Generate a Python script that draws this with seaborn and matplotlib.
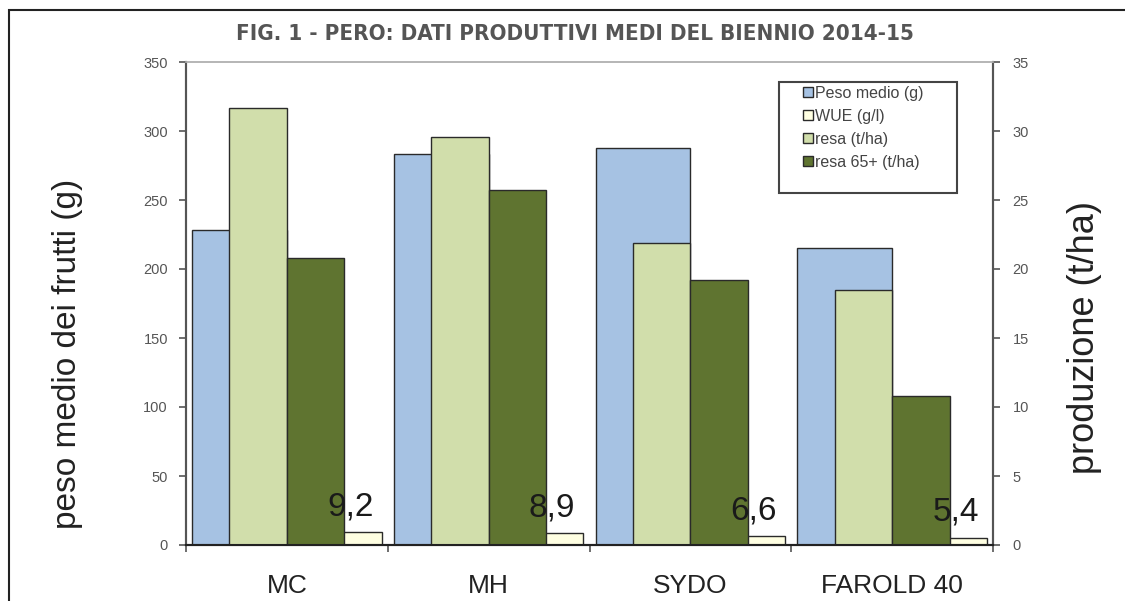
import matplotlib
matplotlib.use("Agg")
import matplotlib.pyplot as plt
import seaborn as sns
import pandas as pd
from matplotlib.patches import Patch, Rectangle

categories = ["MC", "MH", "SYDO", "FAROLD 40"]
peso_medio = [228, 283, 288, 215]
wue = [9.2, 8.9, 6.6, 5.4]
resa = [31.7, 29.6, 21.9, 18.5]
resa65 = [20.8, 25.7, 19.2, 10.8]
wue_labels = ["9,2", "8,9", "6,6", "5,4"]
series_left = ["Peso medio (g)", "WUE (g/l)"]
series_right = ["resa (t/ha)", "resa 65+ (t/ha)"]

c_blue = "#A6C2E3"
c_wue = "#FFFFE2"
c_light = "#D1DEAB"
c_dark = "#5F7430"
edge = "#2a2a2a"

sns.set_theme(style="white")
plt.rcParams["font.family"] = ["Liberation Sans", "DejaVu Sans"]

df_left = pd.DataFrame({
    "cat": categories * 2,
    "series": [series_left[0]] * 4 + [series_left[1]] * 4,
    "value": peso_medio + wue,
})
df_right = pd.DataFrame({
    "cat": categories * 2,
    "series": [series_right[0]] * 4 + [series_right[1]] * 4,
    "value": resa + resa65,
})

W, H = 1125, 601
fig = plt.figure(figsize=(W / 100, H / 100), dpi=100)
ax = fig.add_axes([186 / W, 1 - 545 / H, (993 - 186) / W, (545 - 62) / H])
ax2 = ax.twinx()

sns.barplot(data=df_left, x="cat", y="value", hue="series", order=categories,
            hue_order=series_left, palette=[c_blue, c_wue], width=0.94,
            edgecolor=edge, linewidth=1.0, ax=ax, legend=False, errorbar=None,
            saturation=1)
sns.barplot(data=df_right, x="cat", y="value", hue="series", order=categories,
            hue_order=series_right, palette=[c_light, c_dark], width=0.57,
            edgecolor=edge, linewidth=1.0, ax=ax2, legend=False, errorbar=None,
            saturation=1)

for a in (ax, ax2):
    a.set_xlim(-0.5, 3.5)
    a.set_xlabel("")
    a.set_ylabel("")
ax.set_ylim(0, 350)
ax2.set_ylim(0, 35)
ax.set_yticks(range(0, 351, 50))
ax2.set_yticks(range(0, 36, 5))

for a in (ax, ax2):
    a.spines["top"].set_color("#b5b5b5")
    a.spines["top"].set_linewidth(1.2)
    a.spines["left"].set_color("#555555")
    a.spines["right"].set_color("#555555")
    a.spines["left"].set_linewidth(1.5)
    a.spines["right"].set_linewidth(1.5)
    a.spines["bottom"].set_color("#222222")
    a.spines["bottom"].set_linewidth(1.5)

ax.tick_params(axis="y", which="major", direction="out", length=5, width=1.2,
               color="#555555", labelsize=10.5, labelcolor="#555555", pad=8,
               left=True)
ax2.tick_params(axis="y", which="major", direction="out", length=5, width=1.2,
                color="#555555", labelsize=10.5, labelcolor="#555555", pad=9,
                right=True)

ax.set_xticks(range(4))
ax.set_xticklabels(categories)
ax.tick_params(axis="x", which="major", length=0, pad=21, labelsize=19,
               labelcolor="#222222")
ax.set_xticks([-0.5, 0.5, 1.5, 2.5, 3.5], minor=True)
ax.tick_params(axis="x", which="minor", direction="out", length=5, width=1.2,
               color="#555555", bottom=True)
ax2.tick_params(axis="x", which="both", length=0, labelbottom=False)

for i, (v, lab) in enumerate(zip(wue, wue_labels)):
    ax2.text(i + 0.315, v + 7.0, lab, transform=ax.transData, ha="center",
             va="bottom", fontsize=24, color="#1a1a1a")

fig.text(68 / W, 1 - 354 / H, "peso medio dei frutti (g)", rotation=90,
         ha="center", va="center", fontsize=24, color="#222222")
fig.text(1085 / W, 1 - 338 / H, "produzione (t/ha)", rotation=90,
         ha="center", va="center", fontsize=26, color="#222222")

fig.text(575 / W, 1 - 34 / H, "FIG. 1 - PERO: DATI PRODUTTIVI MEDI DEL BIENNIO 2014-15",
         ha="center", va="center", fontsize=16, fontweight="bold",
         fontstretch="condensed", color="#555555", family="DejaVu Sans")

handles = [Patch(facecolor=c, edgecolor=edge, linewidth=1.0)
           for c in (c_blue, c_wue, c_light, c_dark)]
labels = series_left + series_right
leg = ax2.legend(handles, labels, loc="upper left",
                 bbox_to_anchor=(803 / W, 1 - 86 / H),
                 bbox_transform=fig.transFigure, frameon=False,
                 fontsize=11.5, handlelength=0.6, handleheight=0.6,
                 handletextpad=0.15, labelspacing=0.5, borderpad=0,
                 borderaxespad=0)
for t in leg.get_texts():
    t.set_color("#444444")
fig.patches.append(Rectangle((779 / W, 1 - 193 / H), (957 - 779) / W, (193 - 82) / H,
                             transform=fig.transFigure, fill=False,
                             edgecolor="#444444", linewidth=1.5, zorder=10))

fig.patches.append(Rectangle((9 / W, -0.2), 1.2, 1 - 10 / H + 0.2,
                             transform=fig.transFigure, fill=False,
                             edgecolor="#222222", linewidth=1.5))

fig.savefig("out.png", dpi=100, facecolor="white")
